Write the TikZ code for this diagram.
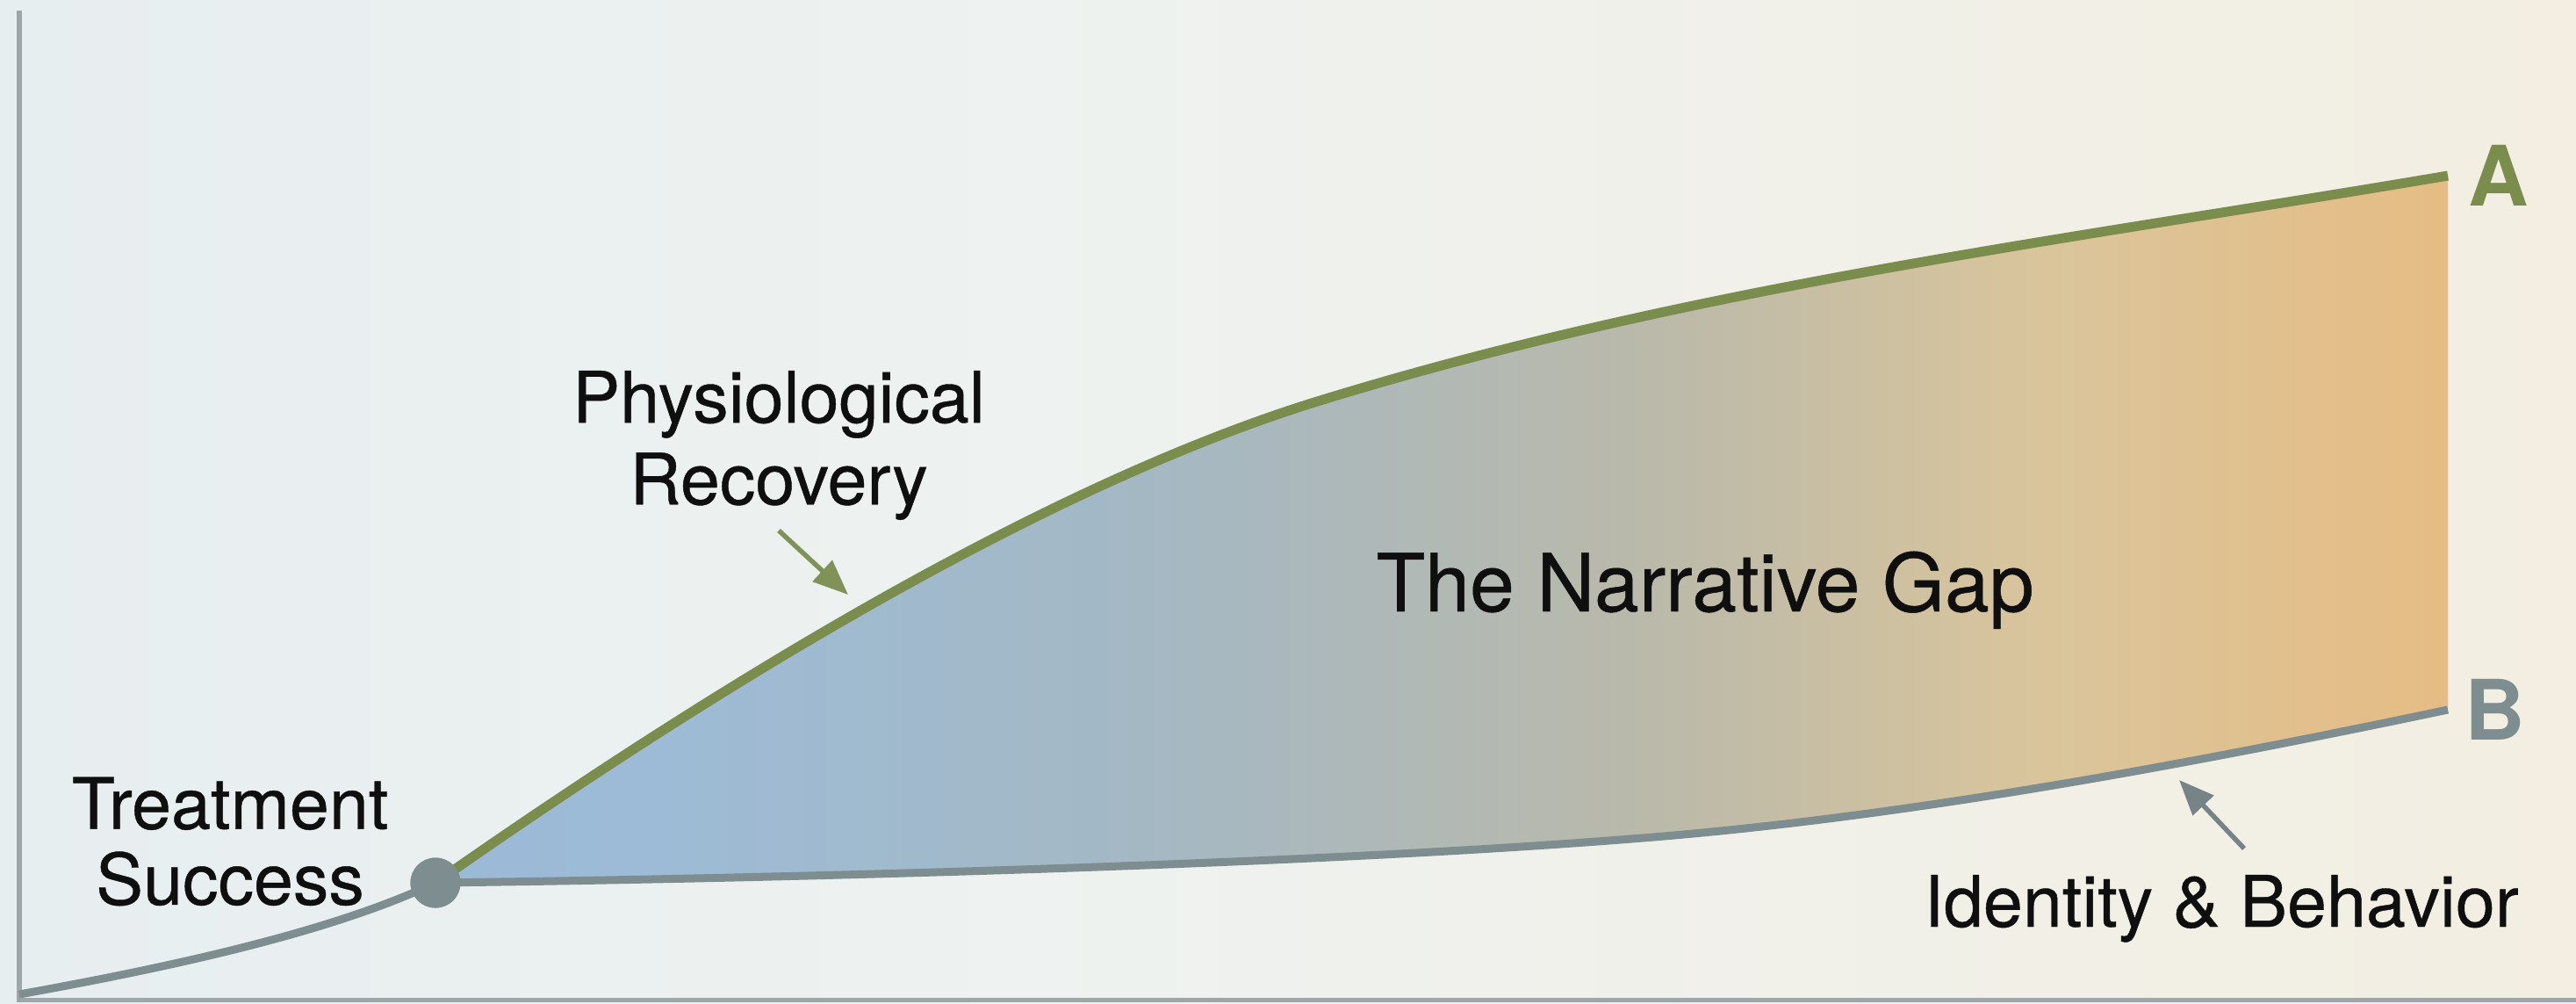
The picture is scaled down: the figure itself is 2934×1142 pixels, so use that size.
\documentclass[tikz,border=0pt]{standalone}
\usepackage{fontspec}
\setmainfont{TeX Gyre Heros}
\newfontfamily\medfont[FakeBold=0.5]{TeX Gyre Heros}
\usetikzlibrary{arrows.meta}
\definecolor{lineA}{RGB}{122,141,76}
\definecolor{lineB}{RGB}{125,141,144}
\definecolor{axisc}{RGB}{158,166,170}
\definecolor{arrA}{RGB}{128,146,88}
\definecolor{arrB}{RGB}{118,132,136}
\definecolor{txt}{RGB}{15,15,15}
\pgfdeclarehorizontalshading{bgshade}{100bp}{rgb(0bp)=(0.906,0.933,0.941); rgb(25bp)=(0.906,0.933,0.941); rgb(45bp)=(0.933,0.949,0.941); rgb(60bp)=(0.945,0.941,0.914); rgb(75bp)=(0.953,0.933,0.882); rgb(100bp)=(0.953,0.933,0.882)}
\pgfdeclarehorizontalshading{gapshade}{100bp}{rgb(0bp)=(0.608,0.729,0.843); rgb(25bp)=(0.608,0.729,0.843); rgb(30.5bp)=(0.616,0.733,0.839); rgb(42.5bp)=(0.643,0.722,0.769); rgb(55bp)=(0.729,0.725,0.667); rgb(65bp)=(0.855,0.773,0.608); rgb(75bp)=(0.902,0.737,0.518); rgb(100bp)=(0.902,0.737,0.518)}
\begin{document}
\begin{tikzpicture}[x=0.01cm,y=-0.01cm,
  lbl/.style={font=\medfont\fontsize{23}{24.5}\selectfont, text=txt, inner sep=0pt, align=center},
  letterA/.style={font=\fontsize{27}{30}\selectfont\bfseries, inner sep=0pt, anchor=base},
  curveA/.style={draw=lineA, line width=0.11cm, line cap=butt},
  curveB/.style={draw=lineB, line width=0.09cm, line cap=butt},
  ptr/.style={line width=0.055cm, -{Triangle[length=0.4cm,width=0.32cm]}}]
\useasboundingbox (0,0) rectangle (2934,1142);
\shade[shading=bgshade] (0,0) rectangle (2934,1142);
% gap region
\shade[shading=gapshade] (496,1005) .. controls (916,711) and (1247,536) .. (1497,458)
  .. controls (1927,325) and (2358,273) .. (2788,200) -- (2788,808)
  .. controls (2488,871) and (2171,930) .. (1871,954)
  .. controls (1500,984) and (900,1000) .. (496,1005) -- cycle;
% axes
\coordinate (ytop) at (22,12);
\coordinate (orig) at (22,1138);
\coordinate (xend) at (2934,1138);
\draw[axisc, line width=0.05cm] (ytop) -- (orig) -- (xend);
% curves
\node[circle, fill=lineB, minimum size=0.57cm, inner sep=0pt] (dot) at (496,1005) {};
\coordinate (bstart) at (22,1132);
\coordinate (aend) at (2788,200);
\coordinate (bend) at (2788,808);
\draw[curveB] (bstart) .. controls (200,1100) and (380,1060) .. (dot.center)
  .. controls (900,1000) and (1500,984) .. (1871,954)
  .. controls (2171,930) and (2488,871) .. (bend);
\draw[curveA] (dot.center) .. controls (916,711) and (1247,536) .. (1497,458)
  .. controls (1927,325) and (2358,273) .. (aend);
\node[circle, fill=lineB, minimum size=0.57cm, inner sep=0pt] at (dot) {};
% labels
\node[lbl] (ts) at (262,958) {Treatment\\Success};
\node[lbl, font=\medfont\fontsize{23}{26.5}\selectfont] (pr) at (887,507) {Physiological\\Recovery};
\node[lbl, font=\medfont\fontsize{26}{30}\selectfont, anchor=base] (gap) at (1942,696) {The Narrative Gap};
\node[lbl, anchor=base] (ib) at (2530,1055) {Identity \& Behavior};
\node[letterA, text=lineA] (la) at (2846,234) {A};
\node[letterA, text=lineB] (lb) at (2842,842) {B};
% pointers
\coordinate (pa1) at (887,604);
\coordinate (pa2) at (966,677);
\draw[ptr, arrA] (pa1) -- (pa2);
\coordinate (pb1) at (2556,966);
\coordinate (pb2) at (2482,888);
\draw[ptr, arrB] (pb1) -- (pb2);
\end{tikzpicture}
\end{document}
